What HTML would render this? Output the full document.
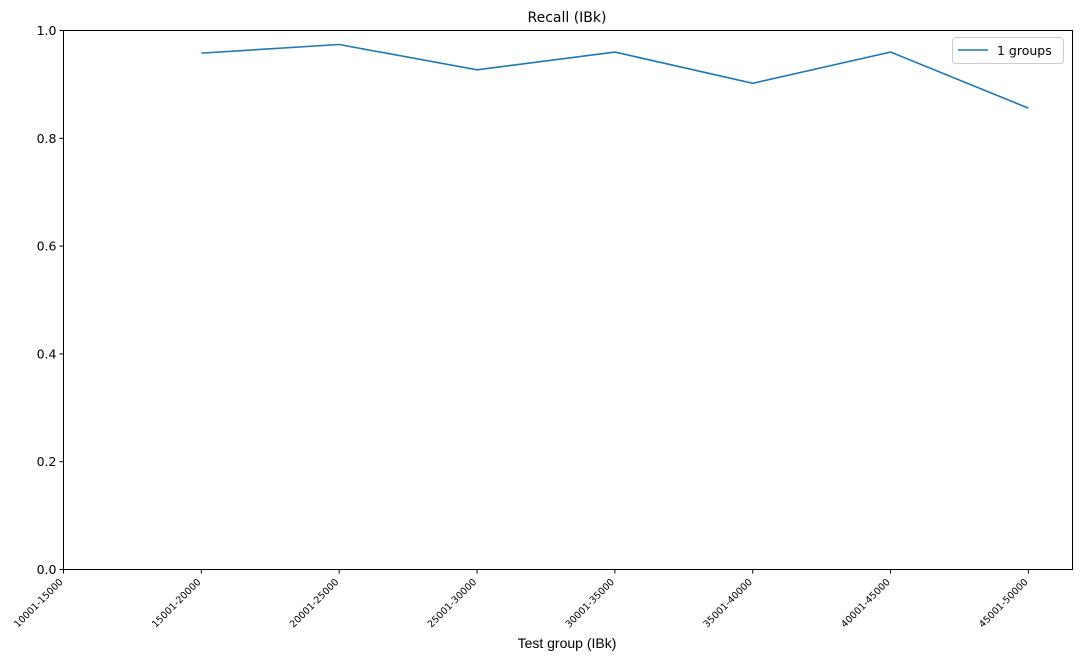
<!DOCTYPE html>
<html><head><meta charset="utf-8"><style>
body{margin:0;background:#fff;font-family:"Liberation Sans","DejaVu Sans",sans-serif;}
svg text{font-family:"DejaVu Sans","Liberation Sans",sans-serif;}
</style></head><body>
<svg id="chart" width="1080" height="661" xmlns="http://www.w3.org/2000/svg">
<rect width="1080" height="661" fill="#fff"/>
<text x="567" y="22" font-size="14" text-anchor="middle" fill="#000">Recall (IBk)</text>
<g id="axes"></g>
<rect x="63.5" y="30.5" width="1009" height="539" fill="none" stroke="#000" stroke-width="1"/>
<text x="567" y="648" font-size="13" text-anchor="middle" fill="#000" style="font-family:'Liberation Sans','DejaVu Sans',sans-serif;font-size:14px">Test group (IBk)</text>
<g>
<rect x="952.5" y="37.5" width="111" height="26" fill="#fff" stroke="#ccc" rx="3"/>
<line x1="958" y1="50" x2="988" y2="50" stroke="#1f77b4" stroke-width="1.6"/>
<text x="997" y="55" font-size="12.5" fill="#000">1 groups</text>
</g>
</svg>
<script>
const categories=["10001-15000","15001-20000","20001-25000","25001-30000","30001-35000","35001-40000","40001-45000","45001-50000"];
const seriesX=[1,2,3,4,5,6,7];
const seriesValues=[0.958,0.974,0.927,0.960,0.902,0.960,0.856];
const yTicks=[0,0.2,0.4,0.6,0.8,1.0];
const yTickLabels=["0.0","0.2","0.4","0.6","0.8","1.0"];
const NS="http://www.w3.org/2000/svg";
const L=63.5,R=1072.5,T=30.5,B=569.5,XMAX=7.32;
const xs=v=>L+(R-L)*v/XMAX;
const ys=v=>B-(B-T)*v;
const g=document.getElementById('axes');
function mk(t,a){const e=document.createElementNS(NS,t);for(const k in a)e.setAttribute(k,a[k]);return e;}
yTicks.forEach((v,i)=>{
 const tk=mk('line',{x1:L-4,x2:L,y1:ys(v),y2:ys(v),stroke:'#000'});
 
 
 g.appendChild(tk);
 const tx=mk('text',{x:L-7,y:ys(v)+4.5,'font-size':'12.5','text-anchor':'end',fill:'#000'});
 tx.textContent=yTickLabels[i];
 
 
 g.appendChild(tx);
});
categories.forEach((c,i)=>{
 const x=xs(i);
 const tk=mk('line',{x1:x,x2:x,y1:B,y2:B+4,stroke:'#000'});
 
 
 g.appendChild(tk);
 const ax=x,ay=B+13;
 const tx=mk('text',{x:ax,y:ay,'font-size':'9.6','text-anchor':'end',fill:'#000',transform:`rotate(-45 ${ax} ${ay})`});
 tx.textContent=c;
 
 
 g.appendChild(tx);
});
const pts=seriesValues.map((v,i)=>xs(seriesX[i])+','+ys(v)).join(' ');
const pl=mk('polyline',{points:pts,fill:'none',stroke:'#1f77b4','stroke-width':'1.6'});


g.appendChild(pl);
</script>
</body></html>
